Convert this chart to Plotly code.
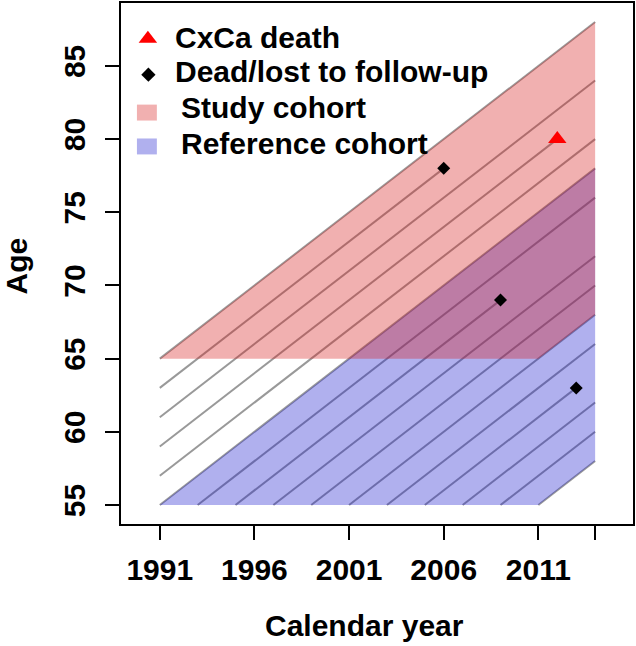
import plotly.graph_objects as go

# ---------------- data ----------------
PERIOD_START, PERIOD_END = 1991, 2014
ENTRY_AGE = 55
BIRTH_YEARS = [1926, 1928, 1930, 1932, 1934, 1936, 1938, 1940,
               1942, 1944, 1946, 1948, 1950, 1952, 1954, 1956]
EXIT_YEARS = [2014, 2006, 2014, 2012, 2014, 2014, 2014, 2009,
              2014, 2014, 2014, 2014, 2013, 2014, 2014, 2014]

CXCA_YEAR = [2012]
CXCA_AGE = [80]
LOST_YEAR = [2006, 2009, 2013]
LOST_AGE = [78, 69, 63]

STUDY_BIRTH = (1926, 1946)
STUDY_MIN_AGE = 65
REF_BIRTH = (1936, 1956)
REF_MIN_AGE = 55

X_TICKS = [1991, 1996, 2001, 2006, 2011, 2014]
X_TICK_TEXT = ["1991", "1996", "2001", "2006", "2011", ""]
Y_TICKS = [55, 60, 65, 70, 75, 80, 85]

LEGEND_LABELS = ["CxCa death", "Dead/lost to follow-up", "Study cohort", "Reference cohort"]

# ---------------- style ----------------
FONT = "Liberation Sans"
PINK = "rgba(215,30,30,0.35)"
BLUE = "rgba(30,30,205,0.35)"
LINE_GRAY = "#999999"

W, H = 636, 646
ML, MR, MT, MB = 121, 1, 1, 122
PW, PH = W - ML - MR, H - MT - MB


def px_to_paper(px, py):
    return (px - ML) / PW, (H - MB - py) / PH


def cohort_polygon(birth, min_age):
    b0, b1 = birth
    xs = [min_age + b0, PERIOD_END, PERIOD_END, min_age + b1, min_age + b0]
    ys = [min_age, PERIOD_END - b0, PERIOD_END - b1, min_age, min_age]
    xs = [max(PERIOD_START, x) for x in xs]
    return xs, ys


fig = go.Figure()

# life lines
lx, ly = [], []
for b, e in zip(BIRTH_YEARS, EXIT_YEARS):
    x0 = max(PERIOD_START, b + ENTRY_AGE)
    lx += [x0, e, None]
    ly += [x0 - b, e - b, None]
fig.add_trace(go.Scatter(x=lx, y=ly, mode="lines",
                         line=dict(color=LINE_GRAY, width=2),
                         hoverinfo="skip", showlegend=False))

# cohort areas (reference first, study on top)
rx, ry = cohort_polygon(REF_BIRTH, REF_MIN_AGE)
fig.add_trace(go.Scatter(x=rx, y=ry, mode="lines", fill="toself",
                         fillcolor=BLUE, line=dict(width=0),
                         name=LEGEND_LABELS[3], showlegend=False))
sx, sy = cohort_polygon(STUDY_BIRTH, STUDY_MIN_AGE)
fig.add_trace(go.Scatter(x=sx, y=sy, mode="lines", fill="toself",
                         fillcolor=PINK, line=dict(width=0),
                         name=LEGEND_LABELS[2], showlegend=False))

# events
fig.add_trace(go.Scatter(x=LOST_YEAR, y=LOST_AGE, mode="markers",
                         marker=dict(symbol="diamond", size=10, color="black"),
                         name=LEGEND_LABELS[1], showlegend=False))
fig.add_trace(go.Scatter(x=CXCA_YEAR, y=CXCA_AGE, mode="markers",
                         marker=dict(symbol="triangle-up", size=16, color="red"),
                         name=LEGEND_LABELS[0], showlegend=False))

# ---------------- manual legend ----------------
legend_rows = [36, 70, 106, 142]
text_x = [173, 173, 179, 179]
for lab, ty, tx in zip(LEGEND_LABELS, legend_rows, text_x):
    xp, yp = px_to_paper(tx, ty)
    fig.add_annotation(x=xp, y=yp, xref="paper", yref="paper", text=lab,
                       showarrow=False, xanchor="left", yanchor="middle",
                       font=dict(family=FONT, size=30, color="black", weight="bold"))

kx0, ky0 = px_to_paper(148, 37)
kx1, ky1 = px_to_paper(148.5, 73)
fig.add_trace(go.Scatter(x=[kx0], y=[ky0], xaxis="x2", yaxis="y2", mode="markers",
                         marker=dict(symbol="triangle-up", size=16, color="red"),
                         hoverinfo="skip", showlegend=False))
fig.add_trace(go.Scatter(x=[kx1], y=[ky1], xaxis="x2", yaxis="y2", mode="markers",
                         marker=dict(symbol="diamond", size=11, color="black"),
                         hoverinfo="skip", showlegend=False))
for (cy, col) in [(111, PINK), (145, BLUE)]:
    a0, b0 = px_to_paper(137, cy - 8)
    a1, b1 = px_to_paper(157, cy + 8)
    fig.add_shape(type="rect", xref="paper", yref="paper", x0=a0, x1=a1,
                  y0=b1, y1=b0, fillcolor=col, line=dict(width=0))

# ---------------- titles ----------------
tx, tyy = px_to_paper(365, 626)
fig.add_annotation(x=tx, y=tyy, xref="paper", yref="paper", text="Calendar year",
                   showarrow=False, xanchor="center", yanchor="middle",
                   font=dict(family=FONT, size=30, color="black", weight="bold"))
ax_, ay_ = px_to_paper(17, 265)
fig.add_annotation(x=ax_, y=ay_, xref="paper", yref="paper", text="Age",
                   showarrow=False, xanchor="center", yanchor="middle", textangle=-90,
                   font=dict(family=FONT, size=30, color="black", weight="bold"))

axis_common = dict(showgrid=False, zeroline=False, showline=True, mirror=True,
                   linecolor="black", linewidth=2, ticks="outside", ticklen=14,
                   tickwidth=2, tickcolor="black",
                   tickfont=dict(family=FONT, size=30, color="black", weight="bold"))

fig.update_layout(
    width=W, height=H,
    margin=dict(l=ML, r=MR, t=MT, b=MB),
    paper_bgcolor="white", plot_bgcolor="white",
    showlegend=False,
    xaxis=dict(range=[1988.95, 2016.0], tickvals=X_TICKS, ticktext=X_TICK_TEXT,
               ticklabelstandoff=4, **axis_common),
    yaxis=dict(range=[53.7, 89.3], tickvals=Y_TICKS, tickangle=-90,
               ticklabelstandoff=8, **axis_common),
    xaxis2=dict(range=[0, 1], overlaying="x", visible=False),
    yaxis2=dict(range=[0, 1], overlaying="y", visible=False),
)

fig.write_html("out.html", config={"displayModeBar": False},
               post_script="document.body.style.margin='0';document.body.style.padding='0';")
